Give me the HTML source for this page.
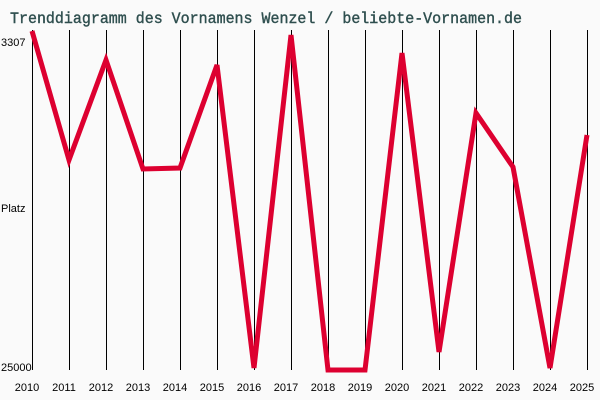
<!DOCTYPE html>
<html><head><meta charset="utf-8"><style>
html,body{margin:0;padding:0;background:#fafafa;}
svg{display:block}
.t{font-family:"Liberation Mono",monospace;font-size:16px;fill:#2f4f4f;}
.l{font-family:"Liberation Sans",sans-serif;font-size:11px;fill:#000;}
</style></head><body>
<svg width="600" height="400" xmlns="http://www.w3.org/2000/svg">
<rect width="600" height="400" fill="#fafafa"/>
<text class="t" x="10" y="23" textLength="512" lengthAdjust="spacingAndGlyphs" stroke="#2f4f4f" stroke-width="0.4">Trenddiagramm des Vornamens Wenzel / beliebte-Vornamen.de</text>
<g stroke="#000" stroke-width="1">
<line x1="32.5" y1="30" x2="32.5" y2="370"/><line x1="69.5" y1="30" x2="69.5" y2="370"/><line x1="106.5" y1="30" x2="106.5" y2="370"/><line x1="143.5" y1="30" x2="143.5" y2="370"/><line x1="180.5" y1="30" x2="180.5" y2="370"/><line x1="217.5" y1="30" x2="217.5" y2="370"/><line x1="254.5" y1="30" x2="254.5" y2="370"/><line x1="291.5" y1="30" x2="291.5" y2="370"/><line x1="328.5" y1="30" x2="328.5" y2="370"/><line x1="365.5" y1="30" x2="365.5" y2="370"/><line x1="402.5" y1="30" x2="402.5" y2="370"/><line x1="439.5" y1="30" x2="439.5" y2="370"/><line x1="476.5" y1="30" x2="476.5" y2="370"/><line x1="513.5" y1="30" x2="513.5" y2="370"/><line x1="550.5" y1="30" x2="550.5" y2="370"/><line x1="587.5" y1="30" x2="587.5" y2="370"/>
</g>
<polyline fill="none" stroke="#dd0030" stroke-width="5" stroke-linejoin="miter" points="32,31 69,160 106,60 143,169 180,168 217,65 254,368 291,35 328,370 365,370 402,53 439,352 476,113 513,167 550,368 587,135"/>
<text class="l" x="1" y="46">3307</text>
<text class="l" x="1" y="212">Platz</text>
<text class="l" x="1" y="371">25000</text>
<g class="l" text-anchor="middle">
<text class="l" x="27" y="391">2010</text><text class="l" x="64" y="391">2011</text><text class="l" x="101" y="391">2012</text><text class="l" x="138" y="391">2013</text><text class="l" x="175" y="391">2014</text><text class="l" x="212" y="391">2015</text><text class="l" x="249" y="391">2016</text><text class="l" x="286" y="391">2017</text><text class="l" x="323" y="391">2018</text><text class="l" x="360" y="391">2019</text><text class="l" x="397" y="391">2020</text><text class="l" x="434" y="391">2021</text><text class="l" x="471" y="391">2022</text><text class="l" x="508" y="391">2023</text><text class="l" x="545" y="391">2024</text><text class="l" x="582" y="391">2025</text>
</g>
</svg>
</body></html>
